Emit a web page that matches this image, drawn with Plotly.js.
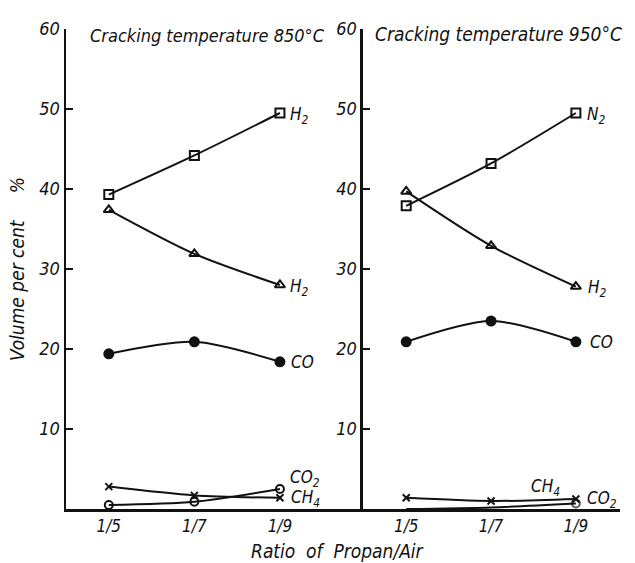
<!DOCTYPE html>
<html>
<head>
<meta charset="utf-8">
<script src="https://cdn.plot.ly/plotly-3.0.1.min.js"></script>
<style>html,body{margin:0;padding:0;background:#fff;}#chart{width:635px;height:563px;}</style>
</head>
<body>
<div id="chart"></div>
<script>
const categories = ['1/5', '1/7', '1/9'];
const yTicks = [10, 20, 30, 40, 50, 60];

// Cracking temperature 850 °C
const h2Square850 = [39.3, 44.2, 49.5];
const h2Tri850 = [37.4, 31.9, 28.0];
const co850 = [19.4, 20.9, 18.4];
const co2_850 = [0.5, 0.9, 2.5];
const ch4_850 = [2.8, 1.7, 1.4];

// Cracking temperature 950 °C
const n2_950 = [37.9, 43.2, 49.5];
const h2_950 = [39.7, 32.9, 27.8];
const co950 = [20.9, 23.5, 20.9];
const ch4_950 = [1.4, 1.0, 1.25];
const co2_950 = [0.0, 0.2, 0.7];

const FONT = 'DejaVu Sans Condensed, DejaVu Sans, sans-serif';
const black = '#111';

function tr(y, xa, ya, symbol, size, extra) {
  return Object.assign({
    x: categories, y: y, xaxis: xa, yaxis: ya,
    type: 'scatter', mode: 'lines+markers',
    line: {color: black, width: 2, shape: 'spline', smoothing: 0.8},
    marker: {symbol: symbol, size: size, color: black, line: {color: black, width: 2}},
    showlegend: false, hoverinfo: 'skip', cliponaxis: false
  }, extra || {});
}

const data = [
  tr(h2Square850, 'x', 'y', 'square-open', 9),
  tr(h2Tri850, 'x', 'y', 'triangle-up-open', 9),
  tr(co850, 'x', 'y', 'circle', 9),
  tr(co2_850, 'x', 'y', 'circle-open', 8),
  tr(ch4_850, 'x', 'y', 'x-thin-open', 7),
  tr(n2_950, 'x2', 'y2', 'square-open', 9),
  tr(h2_950, 'x2', 'y2', 'triangle-up-open', 9),
  tr(co950, 'x2', 'y2', 'circle', 9),
  tr(ch4_950, 'x2', 'y2', 'x-thin-open', 7),
  tr(co2_950, 'x2', 'y2', 'circle-open', [0, 0, 8])
];

function lab(text, xa, ya, x, y, dx, dy) {
  return {text: text, xref: xa, yref: ya, x: x, y: y, xshift: dx, yshift: dy,
    showarrow: false, xanchor: 'left', yanchor: 'middle',
    font: {family: FONT, size: 17, color: black, style: 'italic'}};
}

const axisX = {
  type: 'category', showgrid: false, zeroline: false, showline: true,
  linecolor: black, linewidth: 2.5, ticks: '', ticklabelstandoff: 0,
  tickfont: {family: FONT, size: 17, color: black, style: 'italic'}
};
const axisY = {
  range: [0, 60], tickvals: yTicks, showgrid: false, zeroline: false,
  showline: true, linecolor: black, linewidth: 2.5, ticks: 'inside', ticklen: 7,
  tickcolor: black, tickwidth: 1.5,
  tickfont: {family: FONT, size: 18, color: black, style: 'italic'}
};

const layout = {
  width: 635, height: 563,
  margin: {l: 66, r: 15, t: 29, b: 54},
  paper_bgcolor: '#fff', plot_bgcolor: '#fff',
  xaxis: Object.assign({}, axisX, {domain: [0, 0.536], range: [-0.5, 2.97], anchor: 'y'}),
  xaxis2: Object.assign({}, axisX, {domain: [0.536, 1], range: [-0.51, 2.52], anchor: 'y2'}),
  yaxis: Object.assign({}, axisY, {anchor: 'x',
    title: {text: 'Volume per cent     %', standoff: 10,
      font: {family: FONT, size: 19, color: black, style: 'italic'}}}),
  yaxis2: Object.assign({}, axisY, {anchor: 'x2'}),
  annotations: [
    {text: 'Cracking temperature 850°C', xref: 'paper', yref: 'paper', x: 0.04, y: 1.0,
      xanchor: 'left', yanchor: 'middle', yshift: -6, showarrow: false,
      font: {family: FONT, size: 18, color: black, style: 'italic'}},
    {text: 'Cracking temperature 950°C', xref: 'paper', yref: 'paper', x: 0.555, y: 1.0,
      xanchor: 'left', yanchor: 'middle', yshift: -5, showarrow: false,
      font: {family: FONT, size: 19, color: black, style: 'italic'}},
    {text: 'Ratio  of  Propan/Air', xref: 'paper', yref: 'paper', x: 0.49, y: 0,
      xanchor: 'center', yanchor: 'top', yshift: -29, showarrow: false,
      font: {family: FONT, size: 19, color: black, style: 'italic'}},
    lab('H<sub>2</sub>', 'x', 'y', 2, h2Square850[2], 8, -2),
    lab('H<sub>2</sub>', 'x', 'y', 2, h2Tri850[2], 8, -2),
    lab('CO', 'x', 'y', 2, co850[2], 9, 0),
    lab('CO<sub>2</sub>', 'x', 'y', 2, co2_850[2], 8, 11),
    lab('CH<sub>4</sub>', 'x', 'y', 2, ch4_850[2], 9, -1),
    lab('N<sub>2</sub>', 'x2', 'y2', 2, n2_950[2], 9, -2),
    lab('H<sub>2</sub>', 'x2', 'y2', 2, h2_950[2], 10, -2),
    lab('CO', 'x2', 'y2', 2, co950[2], 12, 0),
    lab('CH<sub>4</sub>', 'x2', 'y2', 1.45, ch4_950[1], 0, 14),
    lab('CO<sub>2</sub>', 'x2', 'y2', 2, co2_950[2], 9, 4)
  ]
};

Plotly.newPlot('chart', data, layout, {staticPlot: true, displayModeBar: false});
</script>
</body>
</html>
